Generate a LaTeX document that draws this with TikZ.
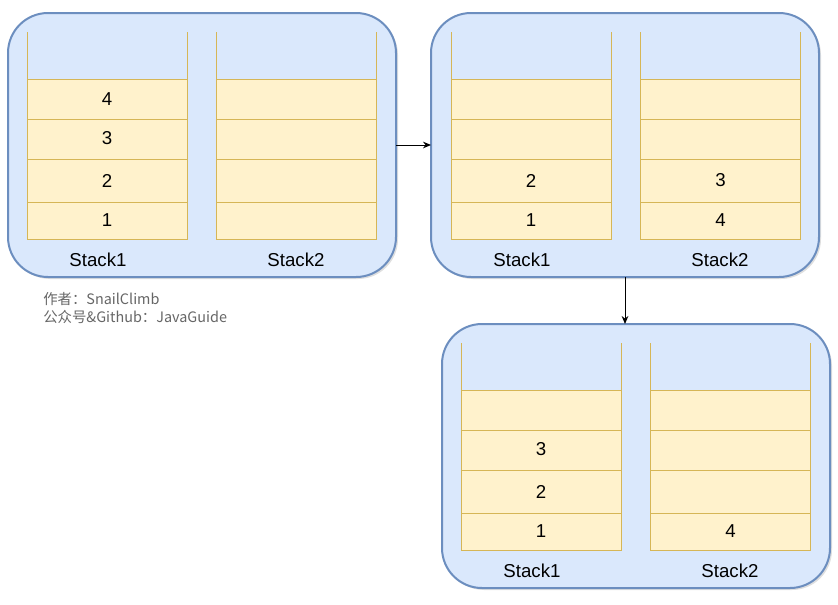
\documentclass[tikz,border=0pt]{standalone}
\usepackage{fontspec}
\setmainfont{Liberation Sans}
\newfontfamily\cjk{Noto Sans CJK SC}
\usetikzlibrary{arrows.meta,shadows}

\definecolor{panelfill}{HTML}{DAE8FC}
\definecolor{panelline}{HTML}{6C8EBF}
\definecolor{cellfill}{HTML}{FFF2CC}
\definecolor{cellline}{HTML}{D6B656}
\definecolor{notegray}{HTML}{666666}

\tikzset{
  panel/.style={draw=panelline, fill=panelfill, line width=1.5pt, rounded corners=30pt,
    minimum width=291pt, minimum height=198pt, outer sep=0pt,
    drop shadow={opacity=0.25, shadow xshift=1.5pt, shadow yshift=-1.5pt}},
  cell/.style={draw=cellline, fill=cellfill, line width=0.75pt, minimum width=120pt,
    inner sep=0pt, outer sep=0pt, font=\fontsize{14}{16}\selectfont},
  wall/.style={draw=cellline, line width=0.75pt},
  stacklabel/.style={font=\fontsize{14}{16}\selectfont},
  link/.style={-{Stealth[length=6pt,width=5pt]}, line width=0.75pt}
}

% one stack: name, x, y offset, cells from bottom to top
\newcommand{\stackcol}[7]{%
  \node[cell, minimum height=27.75pt] (#1-1) at (#2, #3+220.5) {\raisebox{-0.5pt}{#4}};
  \node[cell, minimum height=32.25pt] (#1-2) at (#2, #3+180.5) {\raisebox{-2.5pt}{#5}};
  \node[cell, minimum height=30pt]    (#1-3) at (#2, #3+139) {\raisebox{1pt}{#6}};
  \node[cell, minimum height=30pt]    (#1-4) at (#2, #3+99) {#7};
  \draw[wall] (#1-4.north west) -- ++(0,-47);
  \draw[wall] (#1-4.north east) -- ++(0,-47);
}

\begin{document}
\begin{tikzpicture}[x=0.75pt, y=-0.75pt]
	\useasboundingbox (0,0) rectangle (838,604);
	% panels
	\node[panel] (p1) at (202,145) {};
	\node[panel] (p2) at (625,145) {};
	\node[panel] (p3) at (636,456) {};
	% first state
	\stackcol{a}{107}{0}{1}{2}{3}{4}
	\stackcol{b}{296.5}{0}{}{}{}{}
	\node[stacklabel] (la) at (98,260) {Stack1};
	\node[stacklabel] (lb) at (296,260) {Stack2};
	% second state
	\stackcol{c}{531}{0}{1}{2}{}{}
	\stackcol{d}{720.5}{0}{4}{3}{}{}
	\node[stacklabel] (lc) at (522,260) {Stack1};
	\node[stacklabel] (ld) at (720,260) {Stack2};
	% third state
	\stackcol{e}{541}{311}{1}{2}{3}{}
	\stackcol{f}{730.5}{311}{4}{}{}{}
	\node[stacklabel] (le) at (532,571) {Stack1};
	\node[stacklabel] (lf) at (730,571) {Stack2};
	% arrows
	\draw[link] (p1.east) -- (p2.west);
	\draw[link] (p2.south) -- (p2.south |- p3.north);
	% note
	\node[anchor=west, align=left, inner sep=0pt, text=notegray, font=\cjk\fontsize{10.8}{14}\selectfont] (note) at (43,308)
		{作者：SnailClimb\\公众号\&Github：JavaGuide};
\end{tikzpicture}
\end{document}
